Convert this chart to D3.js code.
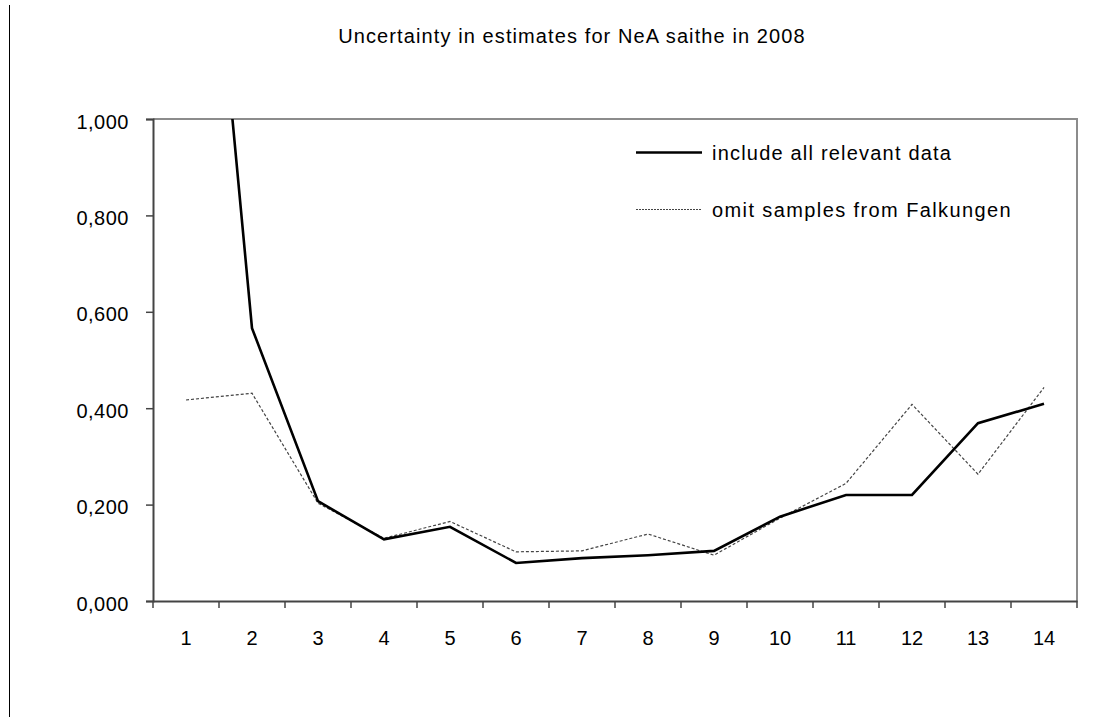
<!DOCTYPE html>
<html>
<head>
<meta charset="utf-8">
<script src="https://cdn.jsdelivr.net/npm/d3@7"></script>
<style>
  html, body { margin: 0; padding: 0; background: #fff; }
  svg { display: block; font-family: "Liberation Sans", Arial, sans-serif; }
</style>
</head>
<body>
<svg id="chart" width="1119" height="717"></svg>
<script>
const categories = ["1","2","3","4","5","6","7","8","9","10","11","12","13","14"];
const includeAll = [2.03, 0.566, 0.207, 0.128, 0.154, 0.079, 0.089, 0.095, 0.104, 0.175, 0.220, 0.220, 0.369, 0.409];
const omitFalkungen = [0.417, 0.431, 0.203, 0.130, 0.165, 0.102, 0.104, 0.139, 0.095, 0.172, 0.244, 0.408, 0.263, 0.443];
const yTicks = [0, 0.2, 0.4, 0.6, 0.8, 1.0];
const seriesNames = ["include all relevant data", "omit samples from Falkungen"];
const title = "Uncertainty in estimates for NeA saithe in 2008";

const svg = d3.select("#chart");
const plot = { left: 153, right: 1077, top: 119, bottom: 601 };
const FONT = "Liberation Sans, Arial, sans-serif";

const x = d3.scaleBand().domain(categories).range([plot.left, plot.right]).padding(0);
const y = d3.scaleLinear().domain([0, 1]).range([plot.bottom, plot.top]);
const fmt = v => d3.format(".3f")(v).replace(".", ",");

// outer left border line
svg.append("line").attr("x1", 9.5).attr("x2", 9.5).attr("y1", 5).attr("y2", 717)
  .attr("stroke", "#000").attr("stroke-width", 1);

// title
svg.append("text").attr("x", 572).attr("y", 43).attr("text-anchor", "middle")
  .attr("font-size", 20).attr("letter-spacing", 1.1).attr("fill", "#000").text(title);

// plot frame (top/right, grey)
svg.append("path")
  .attr("d", `M${plot.left},${plot.top}H${plot.right}V${plot.bottom}`)
  .attr("fill", "none").attr("stroke", "#8c8c8c").attr("stroke-width", 2);

// clip
svg.append("clipPath").attr("id", "clip").append("rect")
  .attr("x", plot.left).attr("y", plot.top)
  .attr("width", plot.right - plot.left).attr("height", plot.bottom - plot.top);

// y axis
const yAxis = svg.append("g").attr("transform", `translate(${plot.left},0)`)
  .call(d3.axisLeft(y).tickValues(yTicks).tickFormat(fmt).tickSize(7).tickPadding(17));
yAxis.select(".domain").attr("stroke", "#444").attr("stroke-width", 2);
yAxis.selectAll(".tick line").attr("stroke", "#444").attr("stroke-width", 1.5);
yAxis.selectAll(".tick text").attr("font-size", 20).attr("letter-spacing", 0.5).attr("fill", "#000")
  .attr("dy", "0.45em").attr("font-family", FONT);

// x axis
const xAxis = svg.append("g").attr("transform", `translate(0,${plot.bottom})`)
  .call(d3.axisBottom(x).tickSize(0).tickPadding(0));
xAxis.select(".domain").attr("stroke", "#444").attr("stroke-width", 2);
xAxis.selectAll(".tick text").attr("font-size", 20).attr("fill", "#000")
  .attr("y", 44).attr("dy", 0).attr("font-family", FONT);
// boundary ticks between categories
const bounds = categories.map(c => x(c)).concat([x(categories[categories.length - 1]) + x.bandwidth()]);
svg.append("g").selectAll("line").data(bounds).join("line")
  .attr("x1", d => d).attr("x2", d => d)
  .attr("y1", plot.bottom).attr("y2", plot.bottom + 7)
  .attr("stroke", "#444").attr("stroke-width", 1.5);

const line = d3.line()
  .x((d, i) => x(categories[i]) + x.bandwidth() / 2)
  .y(d => y(d));

const g = svg.append("g").attr("clip-path", "url(#clip)");
g.append("path").datum(omitFalkungen).attr("d", line)
  .attr("fill", "none").attr("stroke", "#444").attr("stroke-width", 1.2)
  .attr("stroke-dasharray", "3,2");
g.append("path").datum(includeAll).attr("d", line)
  .attr("fill", "none").attr("stroke", "#000").attr("stroke-width", 2.6)
  .attr("stroke-linejoin", "miter");

// legend
const legend = svg.append("g").attr("font-family", FONT);
legend.append("line").attr("x1", 636).attr("x2", 702).attr("y1", 152.5).attr("y2", 152.5)
  .attr("stroke", "#000").attr("stroke-width", 2.6);
legend.append("text").attr("x", 712).attr("y", 160).attr("font-size", 20).attr("letter-spacing", 1.2).text(seriesNames[0]);
legend.append("line").attr("x1", 636).attr("x2", 702).attr("y1", 209.5).attr("y2", 209.5)
  .attr("stroke", "#444").attr("stroke-width", 1).attr("stroke-dasharray", "2,1");
legend.append("text").attr("x", 712).attr("y", 217).attr("font-size", 20).attr("letter-spacing", 1.4).text(seriesNames[1]);
</script>
</body>
</html>
